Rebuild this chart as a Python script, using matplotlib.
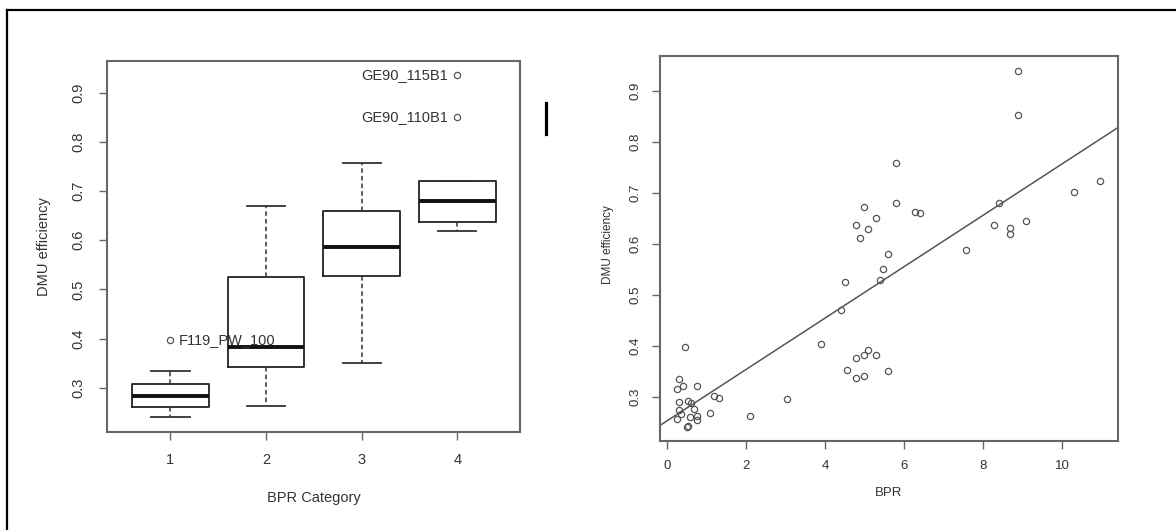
import matplotlib
matplotlib.use("Agg")
import matplotlib.pyplot as plt
from matplotlib.lines import Line2D

plt.rcParams["font.family"] = ["Liberation Sans", "DejaVu Sans"]

# left panel: box plot summary per BPR category
categories = [1, 2, 3, 4]
whisker_lo = [0.240, 0.263, 0.350, 0.619]
q1 = [0.261, 0.342, 0.528, 0.636]
median = [0.284, 0.383, 0.586, 0.680]
q3 = [0.307, 0.525, 0.660, 0.720]
whisker_hi = [0.335, 0.670, 0.756, 0.720]

outlier_cat = [1, 4, 4]
outlier_eff = [0.398, 0.936, 0.850]
outlier_names = ["F119_PW_100", "GE90_115B1", "GE90_110B1"]

# right panel: scatter of BPR vs DMU efficiency
bpr = [8.88, 8.88, 5.80, 5.80, 10.97, 10.30, 8.40, 4.98, 6.28, 6.40,
       5.29, 4.79, 5.08, 4.88, 8.29, 8.68, 8.68, 9.08, 7.58, 5.59,
       5.48, 5.38, 4.50, 4.40, 3.89, 5.08, 4.98, 5.29, 4.79, 4.55,
       5.59, 4.79, 4.98, 3.04, 2.09, 0.46, 0.31, 0.41, 0.24, 0.76,
       0.31, 0.54, 0.61, 0.67, 0.31, 0.36, 0.26, 0.58, 0.76, 0.76,
       0.51, 0.52, 1.08, 1.20, 1.32]
eff = [0.938, 0.852, 0.758, 0.681, 0.723, 0.702, 0.681, 0.672, 0.663, 0.661,
       0.650, 0.637, 0.630, 0.611, 0.637, 0.631, 0.620, 0.644, 0.588, 0.580,
       0.551, 0.529, 0.525, 0.470, 0.404, 0.393, 0.383, 0.383, 0.376, 0.354,
       0.351, 0.337, 0.342, 0.297, 0.263, 0.398, 0.335, 0.322, 0.316, 0.322,
       0.290, 0.292, 0.289, 0.277, 0.275, 0.266, 0.258, 0.262, 0.263, 0.256,
       0.241, 0.243, 0.269, 0.302, 0.299]

fit_intercept = 0.2535
fit_slope = 0.0503

y_ticks = [0.3, 0.4, 0.5, 0.6, 0.7, 0.8, 0.9]
bpr_ticks = [0, 2, 4, 6, 8, 10]

TEXT = "#333333"
FRAME = "#666666"


def style_axes(ax, fontsize, pad):
    for sp in ax.spines.values():
        sp.set_color(FRAME)
        sp.set_linewidth(1.5)
    ax.tick_params(direction="out", length=5.5, width=1.0, color=FRAME,
                   labelsize=fontsize, labelcolor=TEXT, pad=pad)
    for lab in ax.get_yticklabels():
        lab.set_rotation(90)
        lab.set_va("center")


def main():
    fig = plt.figure(figsize=(11.76, 5.30), dpi=100)

    # ---- left: box plot ----
    ax1 = fig.add_axes([0.0912, 0.1855, 0.3514, 0.6994])
    stats = []
    for i in range(len(categories)):
        stats.append({
            "whislo": whisker_lo[i], "q1": q1[i], "med": median[i],
            "q3": q3[i], "whishi": whisker_hi[i], "fliers": [],
        })
    ax1.bxp(stats, positions=categories, widths=0.8, showfliers=False,
            boxprops=dict(color="#222222", linewidth=1.3),
            medianprops=dict(color="#111111", linewidth=2.8),
            whiskerprops=dict(color="#333333", linewidth=1.1,
                              linestyle=(0, (3, 2))),
            capprops=dict(color="#333333", linewidth=1.3),
            capwidths=0.4)
    ax1.plot(outlier_cat, outlier_eff, "o", mfc="none", mec="#555555",
             ms=4.5, mew=0.9, linestyle="none")
    for c, e, name in zip(outlier_cat, outlier_eff, outlier_names):
        if c == 1:
            ax1.annotate(name, (c, e), xytext=(6, 0), textcoords="offset points",
                         ha="left", va="center", fontsize=10.5, color=TEXT)
        else:
            ax1.annotate(name, (c, e), xytext=(-7, 0), textcoords="offset points",
                         ha="right", va="center", fontsize=10.5, color=TEXT)
    ax1.set_xlim(0.34, 4.66)
    ax1.set_ylim(0.211, 0.964)
    ax1.set_xticks(categories)
    ax1.set_xticklabels([str(c) for c in categories])
    ax1.set_yticks(y_ticks)
    ax1.set_yticklabels([f"{t:.1f}" for t in y_ticks])
    style_axes(ax1, 10.5, 10)
    ax1.text(-0.153, 0.5, "DMU efficiency", transform=ax1.transAxes,
             rotation=90, ha="center", va="center", fontsize=10.5, color=TEXT)
    ax1.text(0.5, -0.179, "BPR Category", transform=ax1.transAxes,
             ha="center", va="center", fontsize=10.5, color=TEXT)

    # ---- right: scatter + fitted line ----
    ax2 = fig.add_axes([0.5612, 0.1679, 0.3895, 0.7255])
    ax2.plot(bpr, eff, "o", mfc="none", mec="#555555", ms=4.5, mew=0.9,
             linestyle="none")
    ax2.axline((0, fit_intercept), slope=fit_slope, color="#555555",
               linewidth=1.1)
    ax2.set_xlim(-0.18, 11.42)
    ax2.set_ylim(0.214, 0.967)
    ax2.set_xticks(bpr_ticks)
    ax2.set_xticklabels([str(t) for t in bpr_ticks])
    ax2.set_yticks(y_ticks)
    ax2.set_yticklabels([f"{t:.1f}" for t in y_ticks])
    style_axes(ax2, 9.5, 8)
    ax2.text(-0.1135, 0.51, "DMU efficiency", transform=ax2.transAxes,
             rotation=90, ha="center", va="center", fontsize=8.5, color=TEXT)
    ax2.text(0.5, -0.135, "BPR", transform=ax2.transAxes,
             ha="center", va="center", fontsize=9.5, color=TEXT)

    # frame of the screenshot and the stray vertical mark
    fig.add_artist(Line2D([0.006, 0.006], [0.0, 0.981], color="black",
                          linewidth=1.6, transform=fig.transFigure))
    fig.add_artist(Line2D([0.006, 1.0], [0.981, 0.981], color="black",
                          linewidth=1.6, transform=fig.transFigure))
    fig.add_artist(Line2D([0.4639, 0.4639], [0.747, 0.806], color="black",
                          linewidth=2.3, transform=fig.transFigure))

    fig.savefig("out.png", dpi=100)
    plt.close(fig)


if __name__ == "__main__":
    main()
